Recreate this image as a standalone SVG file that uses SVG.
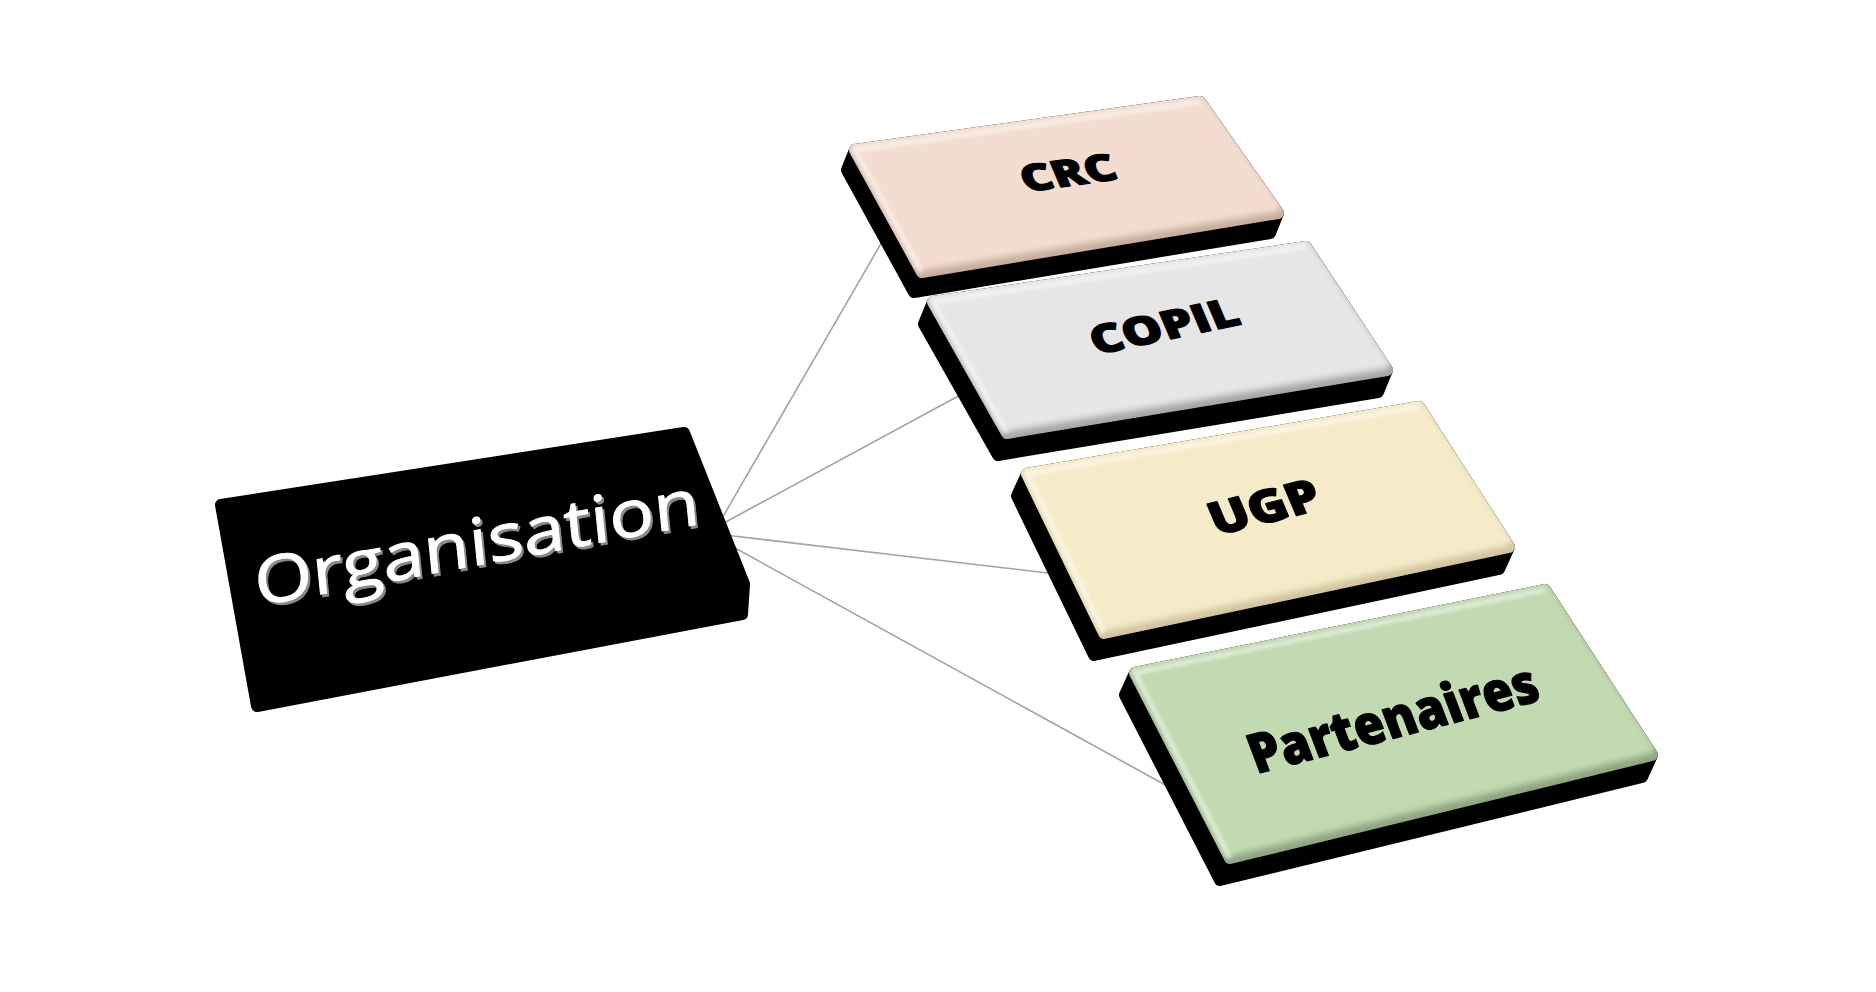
<svg xmlns="http://www.w3.org/2000/svg" width="1876" height="992" viewBox="0 0 1876 992">
<style>
  .hull{fill:#000;stroke:#000;stroke-width:12;stroke-linejoin:round}
  .mk{fill:#fff;stroke:#fff;stroke-width:12;stroke-linejoin:round}
  .hl{fill:none;stroke:#fff;stroke-opacity:0.45;stroke-width:5;stroke-linejoin:round;filter:url(#soft2)}
  .conn{fill:none;stroke:#a3a3a3;stroke-width:1.6}
  .lbl{font-family:"Open Sans","Noto Sans",sans-serif;font-weight:800;fill:#000;stroke:#000;stroke-width:1.2;stroke-linejoin:round;text-anchor:middle}
  .org{font-family:"Open Sans","Noto Sans",sans-serif;font-weight:400;text-anchor:middle}
</style>
<defs>
  <filter id="soft" x="-10%" y="-10%" width="120%" height="120%"><feGaussianBlur stdDeviation="3"/></filter>
  <filter id="soft2" x="-10%" y="-10%" width="120%" height="120%"><feGaussianBlur stdDeviation="1.5"/></filter>
  <mask id="mCRC" maskUnits="userSpaceOnUse" x="0" y="0" width="1876" height="992"><polygon class="mk" points="855,150 1200,102 1278,213 922,272"/></mask>
  <mask id="mCOPIL" maskUnits="userSpaceOnUse" x="0" y="0" width="1876" height="992"><polygon class="mk" points="933,302 1306,247 1387,370 1007,433"/></mask>
  <mask id="mUGP" maskUnits="userSpaceOnUse" x="0" y="0" width="1876" height="992"><polygon class="mk" points="1027,474 1419,407 1509,547 1104,633"/></mask>
  <mask id="mPART" maskUnits="userSpaceOnUse" x="0" y="0" width="1876" height="992"><polygon class="mk" points="1135,673 1545,590 1652,755 1230,858"/></mask>
</defs>
<rect width="1876" height="992" fill="#fff"/>

<g id="connectors">
  <line class="conn" x1="721" y1="520" x2="890" y2="228"/>
  <line class="conn" x1="722" y1="524" x2="975" y2="387"/>
  <line class="conn" x1="725" y1="535" x2="1065" y2="575"/>
  <line class="conn" x1="726" y1="543" x2="1178" y2="792"/>
</g>

<g id="node-organisation">
  <polygon class="hull" points="221,505 684,433 744,584 742,614 257,706"/>
  <g transform="matrix(0.9833 -0.1822 0.1 1 479 565)">
    <text class="org" x="2" y="3" font-size="65" textLength="452" lengthAdjust="spacingAndGlyphs" fill="#8a8a8a" stroke="#8a8a8a" stroke-width="0.9">Organisation</text>
    <text class="org" x="0" y="0" font-size="65" textLength="452" lengthAdjust="spacingAndGlyphs" fill="#ffffff" stroke="#ffffff" stroke-width="0.9">Organisation</text>
  </g>
</g>

<g id="node-crc">
  <polygon class="hull" points="855,150 1200,102 1278,213 1270,233 914,292 847,170"/>
  <g mask="url(#mCRC)">
    <polygon points="855,150 1200,102 1278,213 922,272" fill="#c6ad9f" stroke="#c6ad9f" stroke-width="30"/>
    <polygon points="855,150 1200,102 1278,213 922,272" transform="translate(-3,-7)" fill="#f3ddd0" stroke="#f3ddd0" stroke-width="12" stroke-linejoin="round" filter="url(#soft)"/>
    <polyline class="hl" points="922,272 855,150 1200,102"/>
  </g>
  <g transform="matrix(0.9903 -0.1392 0.38 0.9 1068 173)">
    <text class="lbl" x="0" y="14" font-size="40" textLength="95" lengthAdjust="spacingAndGlyphs">CRC</text>
  </g>
</g>

<g id="node-copil">
  <polygon class="hull" points="933,302 1306,247 1387,370 1378,392 998,455 924,324"/>
  <g mask="url(#mCOPIL)">
    <polygon points="933,302 1306,247 1387,370 1007,433" fill="#a6a6a6" stroke="#a6a6a6" stroke-width="30"/>
    <polygon points="933,302 1306,247 1387,370 1007,433" transform="translate(-3,-7)" fill="#e6e6e6" stroke="#e6e6e6" stroke-width="12" stroke-linejoin="round" filter="url(#soft)"/>
    <polyline class="hl" points="1007,433 933,302 1306,247"/>
  </g>
  <g transform="matrix(0.9781 -0.2079 0.38 0.9 1164 326)">
    <text class="lbl" x="0" y="15" font-size="42" textLength="150" lengthAdjust="spacingAndGlyphs">COPIL</text>
  </g>
</g>

<g id="node-ugp">
  <polygon class="hull" points="1027,474 1419,407 1509,547 1499,569 1094,655 1017,496"/>
  <g mask="url(#mUGP)">
    <polygon points="1027,474 1419,407 1509,547 1104,633" fill="#d2c49f" stroke="#d2c49f" stroke-width="30"/>
    <polygon points="1027,474 1419,407 1509,547 1104,633" transform="translate(-3,-7)" fill="#f6ebc9" stroke="#f6ebc9" stroke-width="12" stroke-linejoin="round" filter="url(#soft)"/>
    <polyline class="hl" points="1104,633 1027,474 1419,407"/>
  </g>
  <g transform="matrix(0.9703 -0.2419 0.38 0.9 1264 507)">
    <text class="lbl" x="0" y="17" font-size="48" textLength="112" lengthAdjust="spacingAndGlyphs">UGP</text>
  </g>
</g>

<g id="node-partenaires">
  <polygon class="hull" points="1135,673 1545,590 1652,755 1642,777 1220,880 1125,695"/>
  <g mask="url(#mPART)">
    <polygon points="1135,673 1545,590 1652,755 1230,858" fill="#8ea581" stroke="#8ea581" stroke-width="30"/>
    <polygon points="1135,673 1545,590 1652,755 1230,858" transform="translate(-3,-7)" fill="#c1dab1" stroke="#c1dab1" stroke-width="12" stroke-linejoin="round" filter="url(#soft)"/>
    <polyline class="hl" points="1230,858 1135,673 1545,590"/>
  </g>
  <g transform="matrix(0.9681 -0.2504 0.34 0.9 1393 719)">
    <text class="lbl" x="0" y="20" font-size="58" textLength="296" lengthAdjust="spacingAndGlyphs">Partenaires</text>
  </g>
</g>
</svg>
